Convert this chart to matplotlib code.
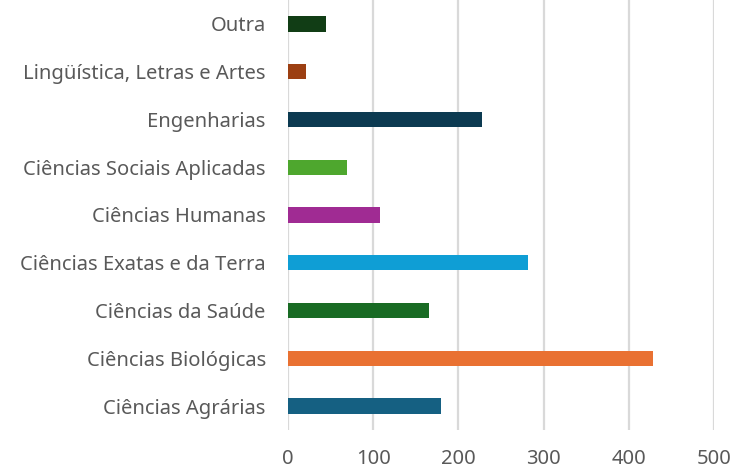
import matplotlib
matplotlib.use("Agg")
import matplotlib.pyplot as plt

categories = ["Ciências Agrárias", "Ciências Biológicas", "Ciências da Saúde",
              "Ciências Exatas e da Terra", "Ciências Humanas",
              "Ciências Sociais Aplicadas", "Engenharias",
              "Lingüística, Letras e Artes", "Outra"]
values = [180, 428, 165, 282, 108, 69, 228, 21, 45]
colors = ["#156082", "#E97132", "#196B24", "#0F9ED5", "#A02B93",
          "#4EA72E", "#0C3A51", "#9C3F12", "#113D15"]
x_ticks = [0, 100, 200, 300, 400, 500]

plt.rcParams['font.family'] = ['Noto Sans', 'DejaVu Sans']

fig = plt.figure(figsize=(7.37, 4.71), dpi=100)
ax = fig.add_axes([288 / 737, 1 - 430 / 471, (714 - 288) / 737, 430 / 471])

ax.barh(range(len(categories)), values, height=0.32, color=colors,
        zorder=3)
ax.set_xlim(0, 500)
ax.set_ylim(-0.5, len(categories) - 0.5)
ax.set_yticks(range(len(categories)))
ax.set_yticklabels(categories)
ax.set_xticks(x_ticks)

for x in x_ticks:
    ax.axvline(x, color="#D9D9D9", linewidth=1.6, zorder=1)

for s in ax.spines.values():
    s.set_visible(False)
ax.tick_params(axis="both", length=0, labelsize=14.5, colors="#595959")
ax.tick_params(axis="y", pad=16)
ax.tick_params(axis="x", pad=14)

fig.savefig("out.png", dpi=100)
